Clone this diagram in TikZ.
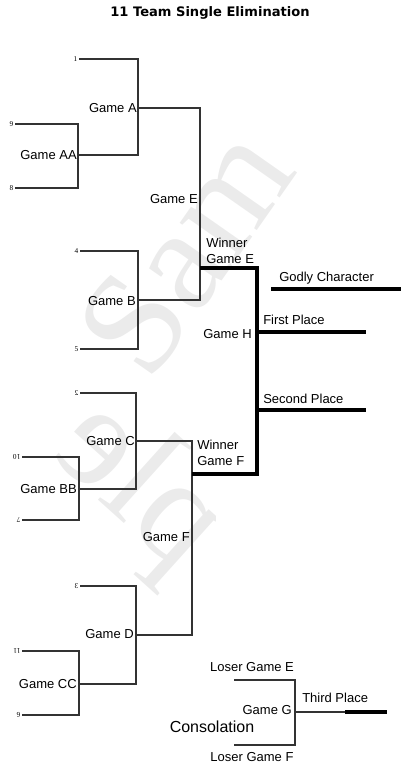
\documentclass[tikz,border=0pt]{standalone}
\usepackage{fontspec}
\setmainfont{Liberation Sans}
\newfontfamily\titlefont{DejaVu Sans}
\newfontfamily\seedfont{Liberation Serif}
\usepackage{graphicx}
\usetikzlibrary{positioning, calc}
\definecolor{brk}{HTML}{333333}
\definecolor{wmark}{HTML}{EBEBEB}
\tikzset{
  bline/.style={draw=brk, line width=2pt},
  fline/.style={draw=black, line width=2.6pt},
  glabel/.style={inner sep=0pt, font=\fontsize{9.75}{11.5}\selectfont},
  seed/.style={inner sep=1pt, anchor=east, font=\seedfont\fontsize{5.5}{6}\selectfont},
  wmtext/.style={text=wmark, inner sep=0pt, font=\seedfont\fontsize{110}{110}\selectfont},
}

\begin{document}
\begin{tikzpicture}[x=0.75pt, y=-0.75pt]
    \useasboundingbox (0,0) rectangle (407,781);
    %% watermark
    \begin{scope}
      \clip (40,140) -- (300,140) -- (300,345) -- (215,440) -- (215,640) -- (40,640) -- cycle;
      \node[wmtext, rotate=55] (wmA) at (185,250) {Sam};
      \node[wmtext, rotate=-42, xscale=-1] (wmB) at (138,488) {ple};
    \end{scope}
    %% title
    \node[font=\titlefont\bfseries\fontsize{9.8}{11}\selectfont] (title) at (210,13) {11 Team Single Elimination};
    %% seeds
    \node[seed] (s1)  at (79,59)  {1};
    \node[seed] (s9)  at (15,124) {9};
    \node[seed] (s8)  at (15,188) {8};
    \node[seed] (s4)  at (80,251) {4};
    \node[seed] (s5)  at (80,349) {5};
    \node[seed] (s2)  at (80,393) {\scalebox{-1}[1]{2}};
    \node[seed] (s10) at (22,457) {\rotatebox{180}{10}};
    \node[seed] (s7)  at (22,520) {\rotatebox{180}{7}};
    \node[seed] (s3)  at (80,586) {\scalebox{-1}[1]{3}};
    \node[seed] (s11) at (22,651) {\rotatebox{180}{11}};
    \node[seed] (s6)  at (22,715) {\rotatebox{180}{6}};
    %% junctions
    \coordinate (gAA) at (78,155);
    \coordinate (gA)  at (138,108);
    \coordinate (gB)  at (138,300);
    \coordinate (wE)  at (200,268);
    \coordinate (gBB) at (79,489);
    \coordinate (gC)  at (136,441);
    \coordinate (gCC) at (79,684);
    \coordinate (gD)  at (136,635);
    \coordinate (wF)  at (192,474);
    \coordinate (gH)  at (257,334);
    %% top half
    \draw[bline] (s9.east) -| (gAA) |- (s8.east);
    \draw[bline] (s1.east) -| (gA) |- (gAA);
    \draw[bline] (s4.east) -| (gB) |- (s5.east);
    \draw[bline] (gA) -| (wE);
    \draw[bline] (gB) -| (wE);
    %% bottom half
    \draw[bline] (s10.east) -| (gBB) |- (s7.east);
    \draw[bline] (s2.east) -| (gC) |- (gBB);
    \draw[bline] (s11.east) -| (gCC) |- (s6.east);
    \draw[bline] (s3.east) -| (gD) |- (gCC);
    \draw[bline] (gC) -| (wF);
    \draw[bline] (gD) -| (wF);
    %% final
    \draw[fline] (wE) -| (gH) |- (wF);
    \coordinate (gc1) at (271,289);
    \coordinate (gc2) at (401,289);
    \coordinate (fp) at (366,332);
    \coordinate (sp) at (366,410);
    \draw[fline] (gc1) -- (gc2);
    \draw[fline] (fp -| gH) -- (fp);
    \draw[fline] (sp -| gH) -- (sp);
    %% game labels
    \node[glabel, anchor=east] (lA)  at (137,108) {Game A};
    \node[glabel, anchor=east] (lAA) at (77,155)  {Game AA};
    \node[glabel, anchor=east] (lE)  at (198,199) {Game E};
    \node[glabel, anchor=east] (lB)  at (136,301) {Game B};
    \node[glabel, anchor=east] (lC)  at (135,441) {Game C};
    \node[glabel, anchor=east] (lBB) at (77,489)  {Game BB};
    \node[glabel, anchor=east] (lF)  at (190,537) {Game F};
    \node[glabel, anchor=east] (lD)  at (134,634) {Game D};
    \node[glabel, anchor=east] (lCC) at (77,684)  {Game CC};
    \node[glabel, anchor=east] (lH)  at (252,334) {Game H};
    \node[glabel, anchor=west, align=left] (lwE) at (206,251) {Winner\\Game E};
    \node[glabel, anchor=west, align=left] (lwF) at (197,453) {Winner\\Game F};
    \node[glabel, anchor=west] (lgc) at (279,278) {Godly Character};
    \node[glabel, anchor=west] (lfp) at (263,320) {First Place};
    \node[glabel, anchor=west] (lsp) at (263,399) {Second Place};
    %% consolation
    \coordinate (cE) at (234,680);
    \coordinate (cF) at (234,745);
    \coordinate (gG) at (295,712);
    \coordinate (tp1) at (345,712);
    \coordinate (tp2) at (387,712);
    \draw[bline] (cE) -| (gG) |- (cF);
    \draw[bline] (gG) -- (tp1);
    \draw[fline] (tp1) -- (tp2);
    \node[glabel] (llE) at (252,667) {Loser Game E};
    \node[glabel] (llF) at (252,757) {Loser Game F};
    \node[glabel, anchor=east] (lG) at (292,710) {Game G};
    \node[glabel, anchor=west] (ltp) at (302,698) {Third Place};
    \node[inner sep=0pt, font=\fontsize{12}{14}\selectfont] (lcons) at (212,727) {Consolation};
  \end{tikzpicture}
\end{document}
